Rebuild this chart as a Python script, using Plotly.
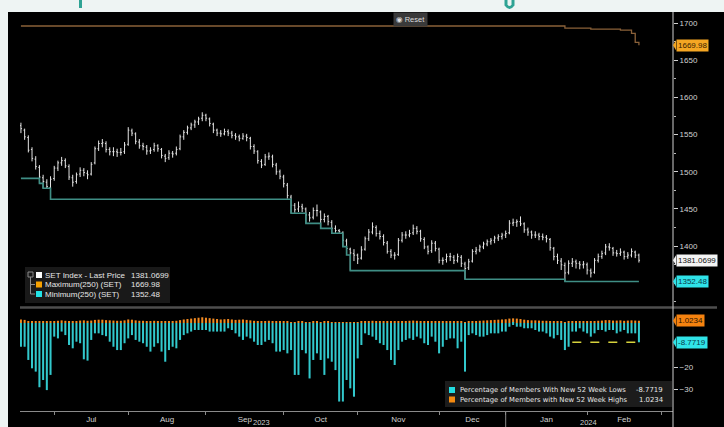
import pandas as pd
import plotly.graph_objects as go

# ---------------- data ----------------
HOLIDAYS = ["2023-07-28", "2023-08-01", "2023-08-14", "2023-10-13", "2023-10-23",
            "2023-12-05", "2023-12-11", "2023-12-29", "2024-01-01", "2024-02-26"]
FIRST_DAY, LAST_DAY = "2023-06-20", "2024-02-21"
DATES = [d.strftime("%Y-%m-%d") for d in
         pd.bdate_range(FIRST_DAY, LAST_DAY, freq="C", holidays=HOLIDAYS)]

OPEN = [1562, 1556, 1546, 1530, 1517, 1506, 1492, 1486, 1479, 1491,
        1505, 1512, 1515, 1507, 1492, 1487, 1497, 1502, 1498, 1497,
        1512, 1531, 1538, 1538, 1530, 1527, 1527, 1526, 1527, 1537,
        1555, 1551, 1540, 1535, 1533, 1528, 1530, 1535, 1530, 1521,
        1519, 1525, 1525, 1531, 1547, 1553, 1559, 1563, 1567, 1572,
        1576, 1571, 1564, 1556, 1552, 1551, 1554, 1552, 1549, 1547,
        1545, 1548, 1545, 1534, 1527, 1514, 1510, 1520, 1520, 1509,
        1500, 1493, 1482, 1466, 1455, 1450, 1453, 1450, 1442, 1439,
        1448, 1446, 1436, 1440, 1432, 1424, 1421, 1418, 1407, 1396,
        1390, 1388, 1384, 1396, 1410, 1419, 1425, 1417, 1413, 1404,
        1393, 1388, 1389, 1408, 1415, 1415, 1418, 1424, 1420, 1409,
        1399, 1394, 1404, 1396, 1381, 1382, 1386, 1385, 1381, 1385,
        1376, 1371, 1380, 1393, 1395, 1399, 1403, 1406, 1408, 1411,
        1413, 1415, 1418, 1431, 1432, 1433, 1430, 1422, 1419, 1415,
        1415, 1413, 1412, 1409, 1397, 1386, 1380, 1374, 1365, 1377,
        1379, 1377, 1375, 1375, 1367, 1365, 1381, 1386, 1391, 1399,
        1397, 1391, 1390, 1392, 1386, 1388, 1392, 1388]
HIGH = [1566, 1558, 1549, 1533, 1521, 1509, 1496, 1490, 1494, 1508,
        1515, 1520, 1518, 1510, 1496, 1499, 1506, 1505, 1502, 1513,
        1534, 1542, 1544, 1541, 1533, 1533, 1531, 1532, 1540, 1560,
        1558, 1553, 1544, 1539, 1536, 1533, 1539, 1537, 1532, 1524,
        1529, 1528, 1534, 1550, 1556, 1562, 1566, 1570, 1574, 1580,
        1578, 1573, 1566, 1558, 1556, 1558, 1557, 1555, 1552, 1550,
        1552, 1551, 1547, 1537, 1529, 1517, 1524, 1526, 1523, 1512,
        1503, 1496, 1485, 1469, 1458, 1460, 1457, 1452, 1446, 1452,
        1456, 1448, 1444, 1442, 1435, 1428, 1423, 1420, 1410, 1398,
        1396, 1390, 1400, 1413, 1423, 1432, 1428, 1421, 1416, 1407,
        1396, 1392, 1411, 1419, 1420, 1422, 1429, 1427, 1422, 1412,
        1401, 1408, 1407, 1398, 1385, 1390, 1391, 1388, 1390, 1388,
        1379, 1383, 1396, 1399, 1402, 1406, 1409, 1411, 1414, 1416,
        1418, 1421, 1435, 1437, 1436, 1440, 1432, 1425, 1421, 1420,
        1418, 1417, 1415, 1411, 1399, 1390, 1384, 1378, 1381, 1384,
        1382, 1380, 1380, 1378, 1370, 1384, 1390, 1394, 1403, 1404,
        1399, 1395, 1397, 1394, 1392, 1397, 1394, 1390]
LOW = [1552, 1543, 1526, 1514, 1503, 1484.5, 1477.8, 1478, 1463, 1488,
       1501, 1508, 1505, 1489, 1480, 1484, 1493, 1494, 1490, 1495,
       1510, 1528, 1533, 1526, 1522, 1521, 1520, 1522, 1524, 1535,
       1548, 1537, 1531, 1529, 1523, 1524, 1527, 1527, 1518, 1513,
       1516, 1519, 1522, 1529, 1543, 1550, 1556, 1559, 1563, 1568,
       1568, 1561, 1552, 1548, 1547, 1549, 1548, 1545, 1543, 1541,
       1543, 1541, 1530, 1524, 1511, 1505, 1508, 1516, 1506, 1496,
       1490, 1479, 1464, 1444.2, 1445, 1446, 1446, 1430.7, 1433, 1436,
       1440, 1424, 1432, 1428, 1417.3, 1418, 1418, 1399.4, 1388.2, 1367.1,
       1380, 1376, 1382, 1394, 1407, 1416, 1413, 1409, 1401, 1390,
       1384, 1382, 1387, 1405, 1410, 1412, 1415, 1416, 1406, 1396,
       1389, 1391, 1393, 1377, 1375, 1378, 1380, 1376, 1378, 1372,
       1355.5, 1368, 1378, 1389, 1392, 1396, 1400, 1402, 1404, 1407,
       1409, 1411, 1416, 1427, 1426, 1427, 1418, 1414, 1410, 1411,
       1408, 1408, 1405, 1394, 1381, 1376, 1368, 1352.48, 1362, 1372,
       1370, 1369, 1370, 1362, 1358, 1363, 1378, 1383, 1388, 1394,
       1387, 1386, 1387, 1382, 1383, 1385, 1384, 1378]
CLOSE = [1558, 1547, 1529, 1518, 1507, 1493, 1487, 1480, 1490, 1505,
         1512, 1515, 1508, 1493, 1486, 1496, 1502, 1499, 1496, 1510,
         1531, 1538, 1539, 1530, 1527, 1527, 1526, 1526, 1536, 1556,
         1552, 1541, 1535, 1534, 1528, 1529, 1535, 1531, 1522, 1518,
         1525, 1524, 1530, 1547, 1553, 1559, 1563, 1567, 1571, 1576,
         1572, 1565, 1556, 1552, 1551, 1554, 1552, 1549, 1547, 1545,
         1548, 1546, 1534, 1528, 1515, 1509, 1520, 1521, 1510, 1500,
         1494, 1484, 1468, 1455, 1449, 1453, 1451, 1442, 1438, 1448,
         1448, 1436, 1440, 1433, 1424, 1421, 1420, 1408, 1397, 1391,
         1388, 1383, 1395, 1410, 1419, 1426, 1417, 1413, 1405, 1393,
         1388, 1388, 1408, 1415, 1415, 1417, 1424, 1420, 1410, 1399,
         1393, 1404, 1397, 1381, 1381, 1386, 1386, 1381, 1386, 1377,
         1370, 1379, 1393, 1395, 1399, 1403, 1406, 1408, 1411, 1413,
         1415, 1417, 1431, 1432, 1433, 1430, 1422, 1419, 1415, 1415,
         1413, 1412, 1410, 1398, 1386, 1381, 1375, 1364, 1377, 1379,
         1377, 1375, 1376, 1368, 1364, 1381, 1386, 1390, 1399, 1398,
         1391, 1390, 1392, 1386, 1388, 1393, 1388, 1381.0699]

# rolling 250-day maximum / minimum (step changes: day index -> new level)
MAX_STEP_IDX = [0, 147, 154, 162, 165, 166, 167]
MAX_STEP_VAL = [1696.0, 1693.0, 1691.8, 1690.5, 1686.0, 1674.0, 1669.98]
MIN_STEP_IDX = [0, 5, 6, 8, 73, 77, 81, 84, 87, 88, 89, 120, 147]
MIN_STEP_VAL = [1491.2, 1484.5, 1477.8, 1463.0, 1444.2, 1430.7, 1424.0,
                1417.3, 1399.4, 1388.2, 1367.1, 1355.5, 1352.48]

NEW_LOWS_PCT = [-10.8, -10.8, -16.8, -20.6, -22.1, -29.2, -25.9, -30.5, -23.6, -6.2,
                -7.0, -3.9, -5.5, -10.0, -11.5, -8.5, -9.2, -16.5, -17.1, -7.7,
                -4.7, -4.7, -5.5, -6.0, -8.5, -10.8, -12.3, -12.3, -9.2, -7.0,
                -5.5, -7.7, -8.5, -9.2, -10.8, -13.0, -10.8, -9.2, -13.0, -17.6,
                -12.3, -10.8, -11.5, -7.7, -5.5, -4.7, -3.9, -3.2, -3.2, -3.2,
                -3.2, -3.9, -3.9, -3.9, -3.9, -3.9, -2.4, -3.2, -4.7, -6.2,
                -7.7, -6.2, -7.0, -8.5, -10.0, -10.0, -8.5, -7.7, -9.2, -13.0,
                -13.0, -12.3, -13.8, -12.3, -23.6, -23.6, -12.3, -13.8, -25.2, -16.8,
                -13.8, -16.8, -23.6, -16.1, -17.6, -21.4, -35.7, -35.7, -25.9, -29.7,
                -33.5, -16.1, -10.0, -4.7, -5.5, -6.2, -7.7, -9.2, -10.0, -12.3,
                -16.8, -19.1, -12.3, -8.5, -7.7, -7.0, -7.7, -6.2, -7.0, -9.2,
                -10.0, -6.2, -8.5, -13.8, -10.8, -7.7, -7.0, -7.0, -11.5, -8.5,
                -22.1, -5.5, -4.7, -5.5, -6.2, -6.2, -5.5, -4.7, -4.7, -4.7,
                -3.9, -3.9, -1.7, -0.9, -1.7, -1.7, -2.4, -2.4, -2.4, -3.2,
                -3.9, -3.9, -4.7, -6.2, -7.0, -5.5, -7.7, -12.3, -10.8, -3.9,
                -3.9, -2.4, -3.9, -4.7, -6.2, -4.7, -3.2, -3.2, -3.9, -3.2,
                -3.2, -4.7, -3.9, -3.2, -4.7, -4.7, -4.7, -8.7719]
NEW_HIGHS_PCT = [1.6, 1.4, 0.8, 0.6, 0.5, 0.5, 0.5, 0.5, 0.6, 0.9,
                 1.0, 1.2, 1.0, 0.8, 0.7, 0.9, 1.1, 1.2, 1.0, 1.1,
                 1.4, 1.5, 1.5, 1.3, 1.2, 1.1, 1.0, 1.0, 1.2, 1.6,
                 1.5, 1.2, 1.0, 1.0, 0.9, 0.9, 1.0, 0.9, 0.8, 0.8,
                 0.9, 0.9, 1.0, 1.3, 1.6, 1.8, 2.0, 2.2, 2.4, 2.6,
                 2.4, 2.2, 2.0, 1.8, 1.6, 1.7, 1.8, 1.6, 1.4, 1.5,
                 1.6, 1.4, 1.2, 1.0, 0.8, 0.7, 0.9, 1.0, 0.8, 0.7,
                 0.6, 0.5, 0.5, 0.4, 0.4, 0.5, 0.5, 0.4, 0.4, 0.5,
                 0.5, 0.4, 0.5, 0.5, 0.4, 0.4, 0.4, 0.3, 0.3, 0.3,
                 0.3, 0.3, 0.5, 0.7, 0.9, 1.0, 0.8, 0.7, 0.6, 0.5,
                 0.5, 0.5, 0.7, 0.9, 0.9, 1.0, 1.1, 1.0, 0.8, 0.6,
                 0.6, 0.7, 0.6, 0.5, 0.5, 0.6, 0.6, 0.5, 0.6, 0.5,
                 0.4, 0.5, 0.8, 0.9, 1.0, 1.1, 1.2, 1.3, 1.4, 1.5,
                 1.6, 1.7, 2.0, 2.1, 2.0, 1.8, 1.5, 1.3, 1.2, 1.2,
                 1.1, 1.0, 1.0, 0.8, 0.6, 0.6, 0.5, 0.4, 0.7, 0.8,
                 0.8, 0.8, 0.8, 0.6, 0.5, 0.9, 1.0, 1.1, 1.3, 1.3,
                 1.1, 1.1, 1.2, 1.0, 1.1, 1.2, 1.1, 1.0234]

MONTH_NAMES = ["Jul", "Aug", "Sep", "Oct", "Nov", "Dec", "Jan", "Feb"]
MONTH_LABEL_AT = ["2023-07-17", "2023-08-17 12:00", "2023-09-15 12:00", "2023-10-17",
                  "2023-11-16", "2023-12-18", "2024-01-17", "2024-02-15"]
MONTH_STARTS = ["2023-07-03", "2023-08-02", "2023-09-01", "2023-10-02", "2023-11-01",
                "2023-12-01", "2024-01-02", "2024-02-01", "2024-03-01"]
YEAR_LABELS = ["2023", "2024"]
YEAR_LABEL_AT = ["2023-09-22", "2024-02-01 12:00"]
YEAR_BREAK = "2024-01-02"
PRICE_TICKS = [1400, 1450, 1500, 1550, 1600, 1650, 1700]
PCT_TICKS = [-20, -30]
X_RANGE = ["2023-06-19 18:00", "2024-03-06 05:00"]
LEGEND_TOP = ["SET Index - Last Price", "Maximum(250) (SET)", "Minimum(250) (SET)"]
LEGEND_LOW = ["Percentage of Members With New 52 Week Lows",
              "Percentage of Members with New 52 Week Highs"]

# ---------------- style ----------------
WHITE_BAR = "#e4e4e4"
MAX_COL = "#8a6139"
MIN_COL = "#3f8e85"
CYAN = "#32c8cc"
ORANGE = "#f28a22"
FONT = "Liberation Sans, DejaVu Sans, sans-serif"
LEG2_FONT = "DejaVu Sans, Liberation Sans, sans-serif"

L, T, W, H = 20, 12, 653, 399  # plot area in pixels


def fx(px):
    return (px - L) / W


def fy(py):
    return (T + H - py) / H


breaks = [dict(bounds=["sat", "mon"]), dict(values=HOLIDAYS)]

fig = go.Figure()
fig.add_trace(go.Ohlc(
    x=DATES, open=OPEN, high=HIGH, low=LOW, close=CLOSE,
    increasing=dict(line=dict(color=WHITE_BAR, width=1)),
    decreasing=dict(line=dict(color=WHITE_BAR, width=1)),
    tickwidth=0.3, xaxis="x", yaxis="y", hoverinfo="skip"))

fig.add_trace(go.Scatter(
    x=[DATES[i] for i in MAX_STEP_IDX] + [DATES[-1]],
    y=MAX_STEP_VAL + [MAX_STEP_VAL[-1]],
    mode="lines", line=dict(color=MAX_COL, width=1.3, shape="hv"),
    xaxis="x", yaxis="y", hoverinfo="skip"))
fig.add_trace(go.Scatter(
    x=[DATES[i] for i in MIN_STEP_IDX] + [DATES[-1]],
    y=MIN_STEP_VAL + [MIN_STEP_VAL[-1]],
    mode="lines", line=dict(color=MIN_COL, width=1.6, shape="hv"),
    xaxis="x", yaxis="y", hoverinfo="skip"))

fig.add_trace(go.Bar(x=DATES, y=NEW_HIGHS_PCT, marker=dict(color=ORANGE, line=dict(width=0)),
                     xaxis="x2", yaxis="y2", hoverinfo="skip"))
fig.add_trace(go.Bar(x=DATES, y=NEW_LOWS_PCT, marker=dict(color=CYAN, line=dict(width=0)),
                     xaxis="x2", yaxis="y2", hoverinfo="skip"))

tickfont = dict(family=FONT, size=8, color="#d2d2d2")

shapes = [
    # black chart background
    dict(type="rect", xref="paper", yref="paper", x0=fx(8), x1=fx(726), y0=fy(430), y1=1.0,
         fillcolor="#000000", line=dict(width=0), layer="below"),
    # separator between panels
    dict(type="line", xref="paper", yref="paper", x0=0, x1=fx(717), y0=fy(307.5), y1=fy(307.5),
         line=dict(color="#4e4e4e", width=2.5)),
    # right axis line
    dict(type="line", xref="paper", yref="paper", x0=1, x1=1, y0=fy(427), y1=1.0,
         line=dict(color="#cfcfcf", width=1)),
    # year divider
    dict(type="line", xref="x2", yref="paper", x0=YEAR_BREAK, x1=YEAR_BREAK, y0=0, y1=fy(427),
         line=dict(color="#8a8a8a", width=1)),
    # last value guide in lower panel
    dict(type="line", xref="x2", yref="y2", x0=DATES[149], x1=DATES[-1],
         y0=NEW_LOWS_PCT[-1], y1=NEW_LOWS_PCT[-1],
         line=dict(color="#d6d23c", width=1.5, dash="dash")),
    # legend backgrounds
    dict(type="rect", xref="paper", yref="paper", x0=fx(25), x1=fx(170), y0=fy(303), y1=fy(267),
         fillcolor="#191919", line=dict(width=0)),
    dict(type="rect", xref="paper", yref="paper", x0=fx(445), x1=fx(672), y0=fy(407), y1=fy(381),
         fillcolor="#1c1c1c", line=dict(width=0)),
    # legend tree connector
    dict(type="rect", xref="paper", yref="paper", x0=fx(28), x1=fx(33), y0=fy(277), y1=fy(272),
         line=dict(color="#8a8a8a", width=1)),
    dict(type="line", xref="paper", yref="paper", x0=fx(30.5), x1=fx(30.5), y0=fy(294), y1=fy(277),
         line=dict(color="#8a8a8a", width=1)),
    dict(type="line", xref="paper", yref="paper", x0=fx(30.5), x1=fx(35), y0=fy(284.5), y1=fy(284.5),
         line=dict(color="#8a8a8a", width=1)),
    dict(type="line", xref="paper", yref="paper", x0=fx(30.5), x1=fx(35), y0=fy(294), y1=fy(294),
         line=dict(color="#8a8a8a", width=1)),
    # header glyph fragments
    dict(type="rect", xref="paper", yref="paper", x0=fx(79), x1=fx(82), y0=fy(8), y1=fy(0),
         fillcolor="#2fa394", line=dict(width=0)),
    dict(type="path", xref="paper", yref="paper",
         path=f"M {fx(506)} {fy(0)} L {fx(506)} {fy(5)} Q {fx(509.5)} {fy(10)} {fx(513)} {fy(5)} L {fx(513)} {fy(0)}",
         line=dict(color="#2fa394", width=3)),
]

# legend colour squares
for py, col in zip([275, 284.5, 294], ["#ffffff", "#f5a000", "#22e2e6"]):
    shapes.append(dict(type="rect", xref="paper", yref="paper", x0=fx(36), x1=fx(42),
                       y0=fy(py + 3), y1=fy(py - 3), fillcolor=col, line=dict(width=0)))
for py, col in zip([390, 399.5], ["#22dde2", "#f58a10"]):
    shapes.append(dict(type="rect", xref="paper", yref="paper", x0=fx(449), x1=fx(455),
                       y0=fy(py + 3), y1=fy(py - 3), fillcolor=col, line=dict(width=0)))

# value tags on the right axis (with pointer)
tags = [("y", MAX_STEP_VAL[-1], f"{MAX_STEP_VAL[-1]}", "#f5a623", "#3a2200"),
        ("y", CLOSE[-1], f"{CLOSE[-1]}", "#f4f4f4", "#111111"),
        ("y", MIN_STEP_VAL[-1], f"{MIN_STEP_VAL[-1]}", "#2fe2e8", "#0a3b48"),
        ("y2", NEW_HIGHS_PCT[-1], f"{NEW_HIGHS_PCT[-1]}", "#f5820f", "#2a1400"),
        ("y2", NEW_LOWS_PCT[-1], f"{NEW_LOWS_PCT[-1]}", "#30e4e8", "#0a3b48")]

annotations = []
for yref, val, txt, bg, fg in tags:
    annotations.append(dict(xref="paper", yref=yref, x=fx(676), y=val, xanchor="left",
                            yanchor="middle", text=txt, showarrow=False, bgcolor=bg,
                            borderpad=1, font=dict(family=FONT, size=8, color=fg)))
    shapes.append(dict(type="path", xref="paper", yref=yref, xsizemode="pixel",
                       ysizemode="pixel", xanchor=fx(676), yanchor=val,
                       path="M -3 0 L 0 5 L 0 -5 Z", fillcolor=bg, line=dict(width=0)))

# top legend text
for py, name, val in zip([275, 284.5, 294], LEGEND_TOP,
                         [CLOSE[-1], MAX_STEP_VAL[-1], MIN_STEP_VAL[-1]]):
    annotations.append(dict(xref="paper", yref="paper", x=fx(43), y=fy(py), xanchor="left",
                            yanchor="middle", text=name, showarrow=False,
                            font=dict(family=FONT, size=8, color="#e6e6e6")))
    annotations.append(dict(xref="paper", yref="paper", x=fx(129), y=fy(py), xanchor="left",
                            yanchor="middle", text=f"{val}", showarrow=False,
                            font=dict(family=FONT, size=8, color="#e6e6e6")))
# lower legend text
for py, name, val in zip([390, 399.5], LEGEND_LOW, [NEW_LOWS_PCT[-1], NEW_HIGHS_PCT[-1]]):
    annotations.append(dict(xref="paper", yref="paper", x=fx(458), y=fy(py), xanchor="left",
                            yanchor="middle", text=name, showarrow=False,
                            font=dict(family=LEG2_FONT, size=6.8, color="#e6e6e6")))
    annotations.append(dict(xref="paper", yref="paper", x=fx(665), y=fy(py), xanchor="right",
                            yanchor="middle", text=f"{val}", showarrow=False,
                            font=dict(family=LEG2_FONT, size=6.9, color="#e6e6e6")))
# year labels
for lab, at in zip(YEAR_LABELS, YEAR_LABEL_AT):
    annotations.append(dict(xref="x2", yref="paper", x=at, y=fy(422), xanchor="center",
                            yanchor="middle", text=lab, showarrow=False,
                            font=dict(family=FONT, size=7.5, color="#cfcfcf")))
# reset button
annotations.append(dict(xref="paper", yref="paper", x=fx(410), y=fy(19.5), xanchor="center",
                        yanchor="middle", text="◉ Reset", showarrow=False, bgcolor="#3a3a3a",
                        borderpad=2, font=dict(family=FONT, size=7.5, color="#dddddd")))

fig.update_layout(
    template="none",
    width=724, height=427,
    margin=dict(l=L, r=724 - L - W, t=T, b=427 - T - H),
    paper_bgcolor="#eef4f3", plot_bgcolor="#000000",
    showlegend=False, barmode="relative", bargap=0.45,
    font=dict(family=FONT, size=8, color="#d2d2d2"),
    xaxis=dict(domain=[0, 1], anchor="y", matches="x2", range=X_RANGE, rangebreaks=breaks,
               showticklabels=False, ticks="", showgrid=False, zeroline=False, showline=False,
               rangeslider=dict(visible=False), automargin=False),
    xaxis2=dict(domain=[0, 1], anchor="y2", range=X_RANGE, rangebreaks=breaks,
                tickvals=MONTH_LABEL_AT, ticktext=MONTH_NAMES, ticks="", tickfont=tickfont,
                ticklabelstandoff=0,
                showgrid=False, zeroline=False, showline=True, linecolor="#8a8a8a", linewidth=1,
                minor=dict(tickvals=MONTH_STARTS, ticks="outside", ticklen=3,
                           tickcolor="#8a8a8a", showgrid=False),
                automargin=False),
    yaxis=dict(domain=[fy(306), 1], anchor="x", range=[1319.6, 1714.8], side="right",
               tickvals=PRICE_TICKS, ticks="outside", ticklen=4, tickcolor="#d2d2d2",
               tickfont=tickfont, showgrid=False, zeroline=False, showline=False,
               minor=dict(dtick=25, tick0=0, ticks="outside", ticklen=2, tickcolor="#bbbbbb",
                          showgrid=False),
               automargin=False),
    yaxis2=dict(domain=[0, fy(309)], anchor="x2", range=[-40, 6.36], side="right",
                tickvals=PCT_TICKS, ticks="outside", ticklen=4, tickcolor="#d2d2d2",
                tickfont=tickfont, showgrid=False, zeroline=False, showline=False,
                automargin=False),
    shapes=shapes, annotations=annotations,
)

fig.write_html("out.html", include_plotlyjs=True, config={"displayModeBar": False},
               post_script="document.body.style.margin='0';document.body.style.padding='0';")
